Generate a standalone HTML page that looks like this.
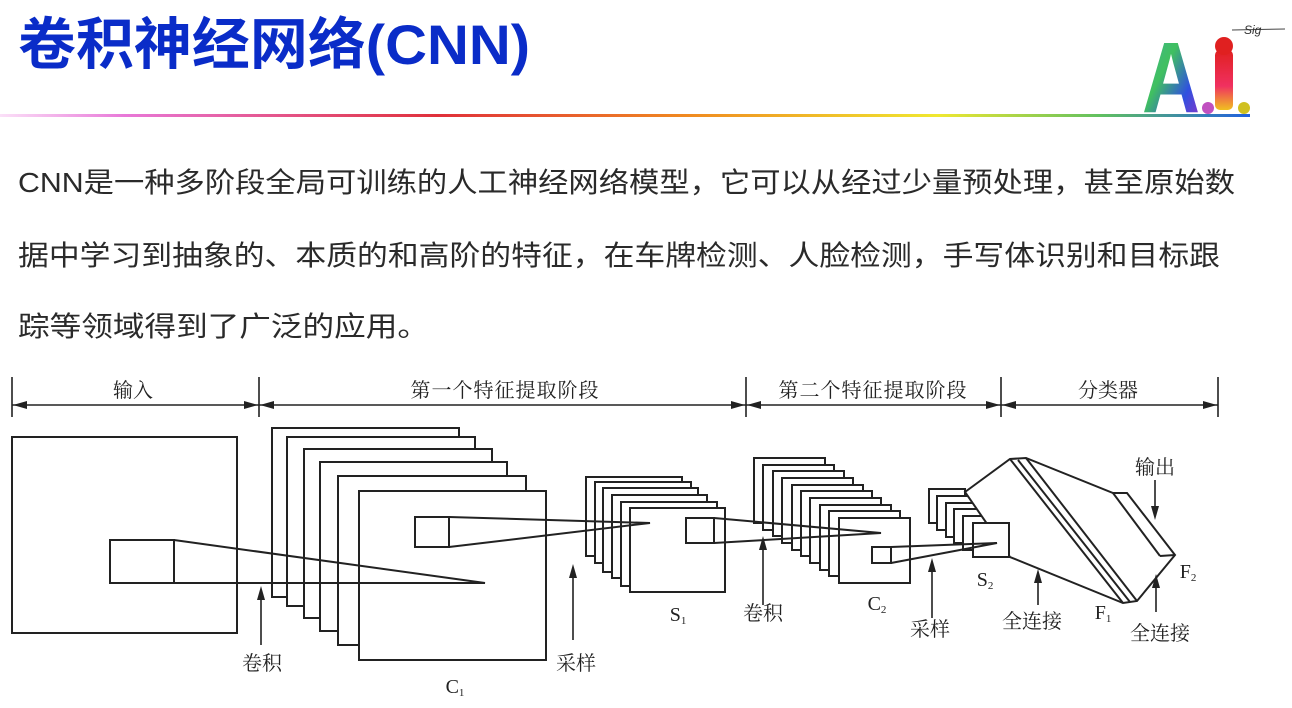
<!DOCTYPE html>
<html><head><meta charset="utf-8"><style>
html,body{margin:0;padding:0;background:#fff;width:1292px;height:708px;overflow:hidden}
svg{display:block}
.t{font-family:"Liberation Sans","Noto Sans CJK SC",sans-serif}
.d{font-family:"Liberation Serif","Noto Serif CJK SC",serif;fill:#222}
</style></head><body>
<svg width="1292" height="708" viewBox="0 0 1292 708" xmlns="http://www.w3.org/2000/svg">
<defs>
<linearGradient id="hl" x1="0" x2="1" y1="0" y2="0">
<stop offset="0" stop-color="#fbe0f8"/><stop offset="0.1" stop-color="#e878d8"/>
<stop offset="0.35" stop-color="#e0303a"/><stop offset="0.55" stop-color="#f08a20"/>
<stop offset="0.75" stop-color="#f0e830"/><stop offset="0.88" stop-color="#60c060"/>
<stop offset="1" stop-color="#2060e0"/></linearGradient>
<linearGradient id="ag" x1="0" x2="1" y1="0" y2="1">
<stop offset="0" stop-color="#40b0a0"/><stop offset="0.4" stop-color="#40c060"/><stop offset="0.7" stop-color="#3050e0"/><stop offset="1" stop-color="#a030c0"/></linearGradient>
<linearGradient id="ig" x1="0" x2="0" y1="0" y2="1">
<stop offset="0" stop-color="#e02020"/><stop offset="0.6" stop-color="#f03060"/><stop offset="1" stop-color="#f0c020"/></linearGradient>
</defs>
<text x="18" y="64" class="t" font-size="56" font-weight="bold" fill="#0a2cc8" textLength="512" lengthAdjust="spacingAndGlyphs">卷积神经网络(CNN)</text>
<rect x="0" y="114" width="1250" height="3" fill="url(#hl)"/>
<text x="1142" y="112" font-family="Liberation Sans,sans-serif" font-size="100" font-weight="bold" fill="url(#ag)" textLength="58" lengthAdjust="spacingAndGlyphs">A</text>
<rect x="1215" y="50" width="18" height="60" rx="5" fill="url(#ig)"/>
<circle cx="1224" cy="46" r="9" fill="#e02020"/>
<circle cx="1208" cy="108" r="6" fill="#c050c0"/><circle cx="1244" cy="108" r="6" fill="#d0c020"/>
<path d="M1232 30 L1285 29" stroke="#444" stroke-width="1"/>
<text x="1244" y="34" font-size="12" font-style="italic" fill="#333" class="t">Sig</text>

<g class="t" font-size="28" fill="#2a2a2a">
<text x="18" y="192" textLength="1217" lengthAdjust="spacingAndGlyphs">CNN是一种多阶段全局可训练的人工神经网络模型，它可以从经过少量预处理，甚至原始数</text>
<text x="18" y="265" textLength="1202" lengthAdjust="spacingAndGlyphs">据中学习到抽象的、本质的和高阶的特征，在车牌检测、人脸检测，手写体识别和目标跟</text>
<text x="18" y="336" textLength="411" lengthAdjust="spacingAndGlyphs">踪等领域得到了广泛的应用。</text>
</g>

<g stroke="#222" stroke-width="2" fill="#fff">
<g stroke-width="1.6">
<line x1="12" y1="377" x2="12" y2="417"/><line x1="259" y1="377" x2="259" y2="417"/>
<line x1="746" y1="377" x2="746" y2="417"/><line x1="1001" y1="377" x2="1001" y2="417"/><line x1="1218" y1="377" x2="1218" y2="417"/>
<line x1="12" y1="405" x2="1218" y2="405"/>
</g>
<g fill="#222" stroke="none">
<path d="M13 405 l14 -4 v8z M258 405 l-14 -4 v8z M260 405 l14 -4 v8z M745 405 l-14 -4 v8z M747 405 l14 -4 v8z M1000 405 l-14 -4 v8z M1002 405 l14 -4 v8z M1217 405 l-14 -4 v8z"/>
</g>
<rect x="12" y="437" width="225" height="196"/>
<rect x="272" y="428" width="187" height="169"/>
<rect x="287" y="437" width="188" height="169"/>
<rect x="304" y="449" width="188" height="169"/>
<rect x="320" y="462" width="187" height="169"/>
<rect x="338" y="476" width="188" height="169"/>
<rect x="359" y="491" width="187" height="169"/>
<rect x="586" y="477" width="96" height="79"/>
<rect x="595" y="482" width="96" height="81"/>
<rect x="603" y="488" width="95" height="84"/>
<rect x="612" y="495" width="95" height="83"/>
<rect x="621" y="502" width="96" height="84"/>
<rect x="630" y="508" width="95" height="84"/>
<rect x="754" y="458" width="71" height="65"/>
<rect x="763" y="465" width="71" height="65"/>
<rect x="773" y="471" width="71" height="65"/>
<rect x="782" y="478" width="71" height="65"/>
<rect x="792" y="485" width="71" height="65"/>
<rect x="801" y="491" width="71" height="65"/>
<rect x="810" y="498" width="71" height="65"/>
<rect x="820" y="505" width="71" height="65"/>
<rect x="829" y="511" width="71" height="65"/>
<rect x="839" y="518" width="71" height="65"/>
<rect x="929" y="489" width="36" height="34"/>
<rect x="937" y="496" width="36" height="34"/>
<rect x="946" y="503" width="36" height="34"/>
<rect x="954" y="509" width="36" height="34"/>
<rect x="963" y="516" width="36" height="34"/>
<rect x="973" y="523" width="36" height="34"/>
<path d="M965 492 L1010 459 L1026 458 L1113 493 L1127 493 L1175 555 L1137 601 L1123 603 L1010 557 Z" fill="#fff"/>
<line x1="1010" y1="459" x2="1123" y2="603"/>
<line x1="1018" y1="460" x2="1130" y2="602"/>
<line x1="1026" y1="458" x2="1137" y2="601"/>
<line x1="1113" y1="493" x2="1160" y2="556"/>
<line x1="1160" y1="556" x2="1175" y2="555"/>
<rect x="973" y="523" width="36" height="34"/>
<rect x="110" y="540" width="64" height="43" fill="none"/>
<path d="M174 540 L485 583 L110 583" fill="none"/>
<rect x="415" y="517" width="34" height="30" fill="none"/>
<path d="M449 517 L650 523 L449 547" fill="none"/>
<rect x="686" y="518" width="28" height="25" fill="none"/>
<path d="M714 518 L881 533 L714 543" fill="none"/>
<rect x="872" y="547" width="19" height="16" fill="none"/>
<path d="M891 547 L997 543 L891 563" fill="none"/>
<g stroke-width="1.6">
<line x1="261" y1="590" x2="261" y2="645"/>
<line x1="573" y1="568" x2="573" y2="640"/>
<line x1="763" y1="540" x2="763" y2="605"/>
<line x1="932" y1="562" x2="932" y2="618"/>
<line x1="1038" y1="573" x2="1038" y2="605"/>
<line x1="1155" y1="480" x2="1155" y2="516"/>
<line x1="1156" y1="578" x2="1156" y2="612"/>
</g>
<g fill="#222" stroke="none">
<path d="M261 586 l-4 14 h8z M573 564 l-4 14 h8z M763 536 l-4 14 h8z M932 558 l-4 14 h8z M1038 569 l-4 14 h8z M1155 520 l-4 -14 h8z M1156 574 l-4 14 h8z"/>
</g>
</g>

<g class="d" font-size="20">
<text x="133" y="397" text-anchor="middle">输入</text>
<text x="505" y="397" text-anchor="middle" letter-spacing="1">第一个特征提取阶段</text>
<text x="873" y="397" text-anchor="middle" letter-spacing="1">第二个特征提取阶段</text>
<text x="1108" y="397" text-anchor="middle">分类器</text>
<text x="262" y="670" text-anchor="middle">卷积</text>
<text x="576" y="670" text-anchor="middle">采样</text>
<text x="455" y="693" text-anchor="middle">C<tspan font-size="11" dy="3">1</tspan></text>
<text x="678" y="621" text-anchor="middle">S<tspan font-size="11" dy="3">1</tspan></text>
<text x="763" y="620" text-anchor="middle">卷积</text>
<text x="877" y="610" text-anchor="middle">C<tspan font-size="11" dy="3">2</tspan></text>
<text x="930" y="636" text-anchor="middle">采样</text>
<text x="985" y="586" text-anchor="middle">S<tspan font-size="11" dy="3">2</tspan></text>
<text x="1032" y="628" text-anchor="middle">全连接</text>
<text x="1103" y="619" text-anchor="middle">F<tspan font-size="11" dy="3">1</tspan></text>
<text x="1155" y="474" text-anchor="middle">输出</text>
<text x="1188" y="578" text-anchor="middle">F<tspan font-size="11" dy="3">2</tspan></text>
<text x="1160" y="640" text-anchor="middle">全连接</text>
</g>
</svg>
</body></html>
